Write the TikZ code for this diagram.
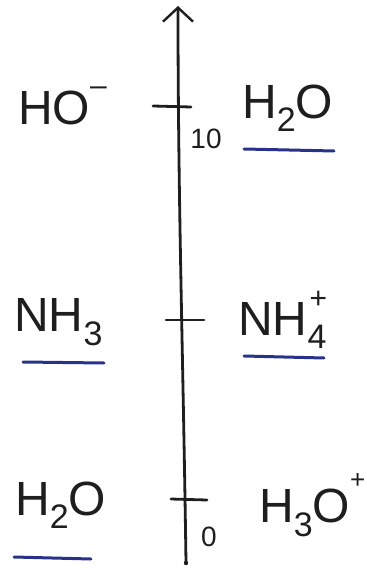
\documentclass[tikz,border=0pt]{standalone}
\usepackage{fontspec}
\setmainfont{Liberation Sans}
\usetikzlibrary{arrows.meta}
\definecolor{ink}{RGB}{30,30,30}
\definecolor{pen}{RGB}{40,50,140}
\newcommand{\sbs}[1]{\raisebox{-0.28em}{\fontsize{34}{34}\selectfont #1}}
\newcommand{\sps}[1]{\raisebox{0.55em}{\fontsize{30}{30}\selectfont #1}}
\tikzset{
  chem/.style={font=\fontsize{48}{48}\selectfont, text=ink, inner sep=0pt},
  ticklab/.style={font=\fontsize{28}{28}\selectfont, text=ink, inner sep=0pt},
  axisline/.style={draw=ink, line width=2.8pt, line cap=round},
  tickline/.style={draw=ink, line width=2.8pt, line cap=round},
  uline/.style={draw=pen, line width=3pt, line cap=round}
}
\begin{document}
\begin{tikzpicture}[x=1pt,y=-1pt]
\useasboundingbox (0,0) rectangle (366,585);
% axis
\coordinate (bot) at (186,563);
\coordinate (top) at (178,6);
\draw[axisline, -{Straight Barb[length=14pt,width=30pt,line width=2.4pt]}] (bot) .. controls (183,350) and (178,200) .. (top);
\fill[ink] (bot) circle (2.2pt);
% ticks
\coordinate (t10a) at (153,106); \coordinate (t10b) at (191,107);
\coordinate (t7a) at (166,320); \coordinate (t7b) at (204,320);
\coordinate (t0a) at (171,499); \coordinate (t0b) at (207,500);
\draw[tickline] (t10a) -- (t10b);
\draw[tickline] (t7a) -- (t7b);
\draw[tickline] (t0a) -- (t0b);
\node[ticklab] (l10) at (206,139) {10};
\node[ticklab] (l0) at (209,537) {0};
% labels
\node[chem, anchor=west] (ho) at (18,106) {HO\raisebox{0.62em}{\fontsize{30}{30}\selectfont –}};
\node[chem, anchor=west] (h2oR) at (242,108) {H\sbs{2}O};
\node[chem, anchor=west] (nh3) at (14,322) {NH\sbs{3}};
\node[chem, anchor=west] (nh4) at (238,320) {NH\sbs{4}\hspace{-0.35em}\sps{+}};
\node[chem, anchor=west] (h2oL) at (15,505) {H\sbs{2}O};
\node[chem, anchor=west] (h3o) at (259,505) {H\sbs{3}O\raisebox{0.72em}{\fontsize{26}{26}\selectfont +}};
% underlines
\coordinate (u1a) at (244,149); \coordinate (u1b) at (334,151);
\coordinate (u2a) at (23,362); \coordinate (u2b) at (104,363);
\coordinate (u3a) at (244,356); \coordinate (u3b) at (324,358);
\coordinate (u4a) at (14,557); \coordinate (u4b) at (91,559);
\draw[uline] (u1a) -- (u1b);
\draw[uline] (u2a) -- (u2b);
\draw[uline] (u3a) -- (u3b);
\draw[uline] (u4a) -- (u4b);
\end{tikzpicture}
\end{document}
